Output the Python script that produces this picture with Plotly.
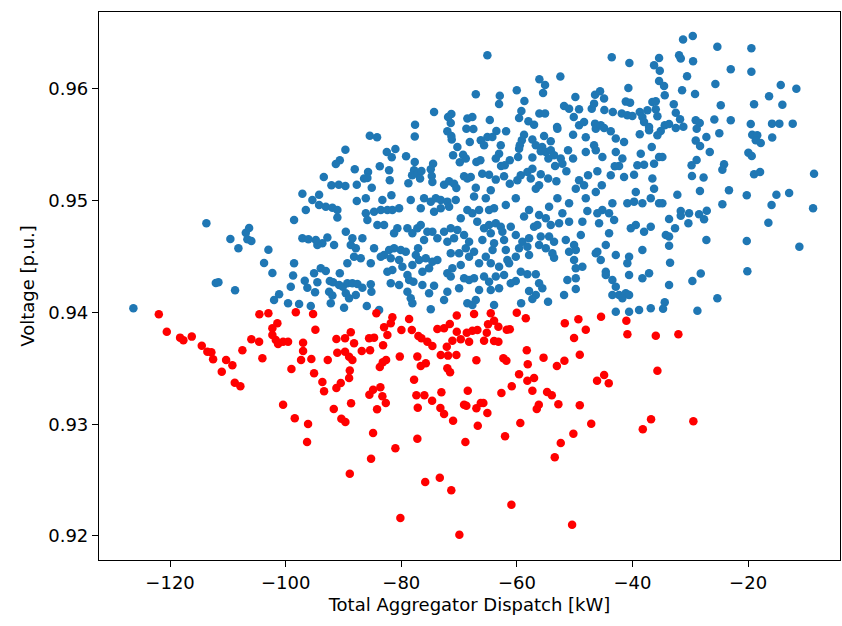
import plotly.graph_objects as go

# Aggregator dispatch (kW) and resulting bus voltage (p.u.) per scenario.
# Scenarios that stay at or above the voltage limit
ok_dispatch = [
    -74.33, -71.91, -71.34, -71.44, -72.03, -71.34, -71.27, -68.57, -68.74, -68.15, -77.62, -77.67,
    -85.45, -84.19, -89.67, -90.64, -91.33, -93.41, -92.09, -90.81, -89.67, -88.05, -87.70, -86.44,
    -85.75, -85.87, -85.11, -83.72, -82.51, -81.02, -81.65, -82.11, -81.99, -79.17, -77.67, -77.79,
    -78.13, -77.22, -76.52, -76.75, -78.77, -74.50, -74.90, -74.73, -74.62, -70.30, -71.04, -69.31,
    -69.88, -68.84, -69.14, -68.57, -72.60, -71.73, -70.87, -70.47, -97.11, -94.22, -81.71,
    -65.11, -43.59, -40.54, -36.27, -56.11, -55.13, -55.47, -52.48, -67.11, -62.96, -63.08, -60.02,
    -58.70, -59.22, -59.62, -58.01, -57.03, -56.11, -55.13, -53.05, -49.88, -51.84, -50.97, -49.24,
    -50.16, -49.24, -48.38, -47.05, -46.65, -46.48, -45.61, -44.92, -44.87, -43.41, -40.71, -41.16,
    -40.42, -41.86, -40.89, -40.02, -38.74, -38.29, -37.42, -36.56, -38.00, -37.13, -67.70, -64.69,
    -67.53, -63.55, -61.87, -66.25, -65.11, -64.24, -65.68, -62.79, -58.76, -59.15, -59.50, -59.62,
    -57.32, -56.73, -55.30, -54.14, -55.62, -55.87, -55.00, -54.14, -54.55, -53.57, -52.99, -50.28,
    -48.08, -46.48, -46.35, -45.49, -44.92, -43.76, -42.89, -41.46, -38.74, -37.13, -46.65, -46.35,
    -45.21, -48.08, -51.15, -52.41, -50.28, -42.89, -41.75, -42.32, -38.57, -38.00, -36.67, -39.16,
    -67.01, -66.32, -63.08, -63.65, -61.23, -59.79, -57.32, -62.74, -62.10, -66.00, -64.82, -63.65,
    -62.22, -67.98, -67.11, -64.52, -61.23, -59.92, -59.33, -58.19, -57.32, -57.60, -55.87, -56.16,
    -54.60, -53.17, -53.39, -52.13, -51.44, -49.24, -48.38, -47.69, -46.08, -45.31, -43.76, -43.07,
    -41.46, -39.73, -39.43, -36.56, -36.27, -56.73, -49.81, -46.35,
    -31.25, -29.57, -25.32, -19.43, -35.40, -31.94, -31.65, -29.52, -35.28, -23.00, -19.43, -30.56,
    -35.40, -34.54, -25.66, -14.35, -11.65, -31.42, -29.18, -34.42, -35.97, -32.86, -24.73, -18.97,
    -16.37, -14.07, -35.97, -32.51, -35.69, -31.77, -29.06, -28.37, -25.84, -23.00, -19.54, -15.86,
    -14.59, -12.28, -34.42, -33.67, -31.20, -32.51, -28.89, -35.11, -35.69, -24.98, -19.29, -18.42,
    -15.83, -27.22, -29.06, -28.31, -18.67, -17.81, -26.63, -19.95, -19.37, -35.40, -34.83, -28.91,
    -29.78, -24.16, -24.45, -18.97, -17.93, -8.59, -29.71, -27.70, -28.33, -23.31, -32.24, -36.27,
    -20.23, -15.10, -12.90,
    -113.72, -109.57, -108.18, -106.90, -106.33, -106.63, -105.94, -102.99, -103.74, -102.30,
    -112.09, -111.64, -108.76, -101.14, -102.01, -126.35,
    -99.59, -97.68, -95.66, -92.20, -89.90, -85.97, -83.84, -78.08, -74.90, -99.12, -96.70, -96.25,
    -94.92, -98.72, -98.55, -95.09, -94.52, -93.93, -93.06, -92.37, -91.80, -92.49, -91.92, -90.76,
    -90.64, -90.12, -89.33, -88.46, -87.60, -89.60, -89.03, -87.87, -86.73, -85.28, -85.17, -89.33,
    -88.17, -87.87, -88.74, -87.01, -86.73, -88.46, -89.60, -91.63, -93.65, -94.52, -94.79, -92.79,
    -97.11, -96.07, -98.55, -96.52, -95.38, -94.22, -93.06, -91.92, -91.06, -91.06, -87.70, -86.14,
    -86.14, -85.87, -84.71, -84.14, -82.98, -83.27, -83.55, -82.41, -81.54, -80.38, -80.68, -81.25,
    -78.94, -78.08, -77.22, -76.63, -78.36, -76.63, -76.06, -74.90, -74.03, -73.17, -72.03, -70.58,
    -74.33, -73.17, -71.73, -69.71, -68.57, -75.49, -73.76, -74.62, -72.60, -71.44, -70.30, -69.14,
    -70.87, -72.03, -71.44, -70.00, -68.84, -69.71, -71.16, -72.03, -71.44, -69.14, -68.27, -76.06,
    -77.10, -77.49, -76.92, -75.76, -74.62, -73.76, -75.19, -76.35, -78.08, -78.94, -77.90, -76.35,
    -74.33, -72.03, -70.00, -78.94, -75.19, -72.60, -68.57, -78.36, -82.11, -81.25, -80.09, -79.22,
    -82.98, -81.82, -80.38, -79.81, -81.54, -84.71, -83.55, -85.28, -81.82, -80.38, -82.41, -78.65,
    -67.41, -65.38, -63.95, -61.92, -60.19, -57.89, -58.76, -56.16, -55.00, -54.43, -52.99, -50.97,
    -48.08, -47.81, -45.21, -44.05, -43.48, -40.89, -39.73, -38.29, -36.84, -67.70, -66.54, -64.81,
    -66.86, -65.68, -64.81, -63.65, -62.79, -62.51, -61.06, -64.52, -68.27, -65.97, -63.95, -62.22,
    -60.19, -59.05, -57.89, -57.03, -56.46, -54.14, -52.70, -52.13, -50.97, -48.67, -48.94, -46.08,
    -45.78, -44.05, -43.18, -40.29, -39.43, -38.00, -36.84, -55.87, -54.43, -53.57, -51.54, -56.16,
    -55.00, -53.86, -53.57, -58.19, -59.62, -57.89, -60.19, -61.65, -61.92, -64.21, -65.38, -67.41,
    -68.27, -66.54, -64.52, -63.08, -61.35, -59.33, -58.19, -56.73, -60.19, -61.06, -62.22, -63.65,
    -64.81, -65.68, -67.41, -66.54, -64.52, -63.08, -57.89, -56.16, -55.60, -56.73, -57.32, -54.61,
    -59.27, -63.95, -67.11, -67.70, -51.84, -49.81, -51.27, -49.81, -48.67, -49.81, -50.11, -50.97,
    -50.11, -49.81, -46.08, -45.49, -44.62, -44.62, -43.48, -42.89, -42.32, -41.16, -40.59, -41.75,
    -43.48, -40.59, -38.29, -37.13, -40.89, -40.59, -42.89, -44.62, -46.35, -38.29, -42.89, -40.59,
    -38.86, -36.84,
    -35.40, -34.83, -31.65, -30.21, -31.65, -28.48, -27.15, -27.62, -33.67, -30.33, -32.64, -34.24,
    -33.67, -33.67, -27.22, -24.45, -15.94, -16.49, -8.76, -20.23, -11.13, -33.50, -28.19, -29.64,
    -33.67, -20.13, -25.32, -34.42, -34.71, -28.77,
]
ok_voltage = [
    0.95795, 0.95750, 0.95777, 0.95696, 0.95622, 0.95580, 0.95547, 0.95735, 0.95645, 0.95526, 0.95681, 0.95574,
    0.95582, 0.95568, 0.95457, 0.95362, 0.95329, 0.95213, 0.95139, 0.95144, 0.95132, 0.95282, 0.95144, 0.95198,
    0.95258, 0.95204, 0.95117, 0.95309, 0.95437, 0.95463, 0.95389, 0.95273, 0.95183, 0.95398, 0.95347, 0.95273,
    0.95228, 0.95242, 0.95267, 0.95198, 0.95156, 0.95332, 0.95282, 0.95222, 0.95168, 0.95481, 0.95407, 0.95412,
    0.95344, 0.95377, 0.95219, 0.95198, 0.95144, 0.95174, 0.95153, 0.95114, 0.95063, 0.95054, 0.95049,
    0.96302, 0.96284, 0.96233, 0.96213, 0.96087, 0.96036, 0.95965, 0.96111, 0.95953, 0.95940, 0.95866, 0.95989,
    0.95893, 0.95804, 0.95741, 0.95711, 0.95681, 0.95780, 0.95780, 0.95660, 0.95929, 0.95848, 0.95824, 0.95819,
    0.95750, 0.95676, 0.95705, 0.95824, 0.95869, 0.95949, 0.95980, 0.95914, 0.95812, 0.95795, 0.96009, 0.95887,
    0.95878, 0.95780, 0.95765, 0.95759, 0.95795, 0.95750, 0.95810, 0.95884, 0.95705, 0.95660, 0.95750, 0.95723,
    0.95642, 0.95625, 0.95622, 0.95541, 0.95571, 0.95571, 0.95497, 0.95497, 0.95591, 0.95541, 0.95497, 0.95466,
    0.95547, 0.95497, 0.95580, 0.95532, 0.95481, 0.95443, 0.95437, 0.95452, 0.95377, 0.95407, 0.95645, 0.95591,
    0.95568, 0.95690, 0.95645, 0.95676, 0.95651, 0.95622, 0.95556, 0.95526, 0.95595, 0.95630, 0.95497, 0.95452,
    0.95392, 0.95437, 0.95452, 0.95377, 0.95377, 0.95437, 0.95377, 0.95311, 0.95421, 0.95323, 0.95481, 0.95318,
    0.95347, 0.95362, 0.95421, 0.95377, 0.95362, 0.95392, 0.95386, 0.95311, 0.95318, 0.95242, 0.95233, 0.95189,
    0.95219, 0.95213, 0.95117, 0.95094, 0.95153, 0.95183, 0.95228, 0.95258, 0.95287, 0.95198, 0.95237, 0.95138,
    0.95198, 0.95174, 0.95311, 0.95332, 0.95264, 0.95183, 0.95138, 0.95228, 0.95264, 0.95138, 0.95228, 0.95308,
    0.95213, 0.95233, 0.95079, 0.95198, 0.95332, 0.95108, 0.95108, 0.95079,
    0.96442, 0.96475, 0.96379, 0.96365, 0.96278, 0.96302, 0.96272, 0.96248, 0.96164, 0.96177, 0.96155, 0.96114,
    0.96072, 0.96027, 0.96045, 0.96036, 0.96003, 0.95989, 0.95956, 0.95944, 0.95890, 0.95863, 0.95854, 0.95863,
    0.95935, 0.95860, 0.95819, 0.95788, 0.95756, 0.95729, 0.95720, 0.95696, 0.95726, 0.95720, 0.95687, 0.95690,
    0.95690, 0.95690, 0.95676, 0.95687, 0.95663, 0.95651, 0.95645, 0.95625, 0.95586, 0.95604, 0.95591, 0.95586,
    0.95565, 0.95571, 0.95538, 0.95490, 0.95541, 0.95517, 0.95437, 0.95430, 0.95401, 0.95392, 0.95392, 0.95365,
    0.95318, 0.95327, 0.95278, 0.95237, 0.95258, 0.95242, 0.95222, 0.95207, 0.95088, 0.95094, 0.95054, 0.95108,
    0.95049, 0.95054, 0.95070,
    0.94798, 0.94658, 0.94575, 0.94714, 0.94756, 0.94655, 0.94640, 0.94562, 0.94443, 0.94354,
    0.94264, 0.94270, 0.94199, 0.94163, 0.94112, 0.94038,
    0.94082, 0.94076, 0.94058, 0.94082, 0.94043, 0.94058, 0.94022, 0.94082, 0.94029, 0.94231, 0.94285, 0.94222,
    0.94181, 0.94330, 0.94440, 0.94351, 0.94270, 0.94396, 0.94371, 0.94282, 0.94270, 0.94186, 0.94151, 0.94246,
    0.94351, 0.94231, 0.94261, 0.94261, 0.94255, 0.94172, 0.94127, 0.94157, 0.94222, 0.94252, 0.94186, 0.94440,
    0.94499, 0.94575, 0.94604, 0.94485, 0.94664, 0.94664, 0.94723, 0.94604, 0.94619, 0.94604, 0.94649, 0.94670,
    0.94664, 0.94655, 0.94828, 0.94917, 0.95007, 0.94962, 0.94947, 0.94938, 0.94849, 0.94917, 0.94998, 0.95022,
    0.94888, 0.94828, 0.94902, 0.94783, 0.94783, 0.95007, 0.94917, 0.94917, 0.94917, 0.94933, 0.94754, 0.94710,
    0.94754, 0.94710, 0.94754, 0.94783, 0.95007, 0.94933, 0.95022, 0.94992, 0.95022, 0.95007, 0.94992, 0.95007,
    0.94902, 0.94933, 0.94947, 0.94843, 0.94917, 0.94723, 0.94664, 0.94723, 0.94723, 0.94754, 0.94739, 0.94694,
    0.94664, 0.94634, 0.94530, 0.94530, 0.94575, 0.94425, 0.94396, 0.94351, 0.94321, 0.94306, 0.94291, 0.94649,
    0.94575, 0.94515, 0.94470, 0.94485, 0.94455, 0.94470, 0.94396, 0.94365, 0.94425, 0.94336, 0.94276, 0.94246,
    0.94240, 0.94186, 0.94217, 0.94186, 0.94172, 0.94112, 0.94082, 0.94127, 0.94559, 0.94575, 0.94559, 0.94544,
    0.94515, 0.94485, 0.94470, 0.94410, 0.94380, 0.94575, 0.94499, 0.94440, 0.94261, 0.94246, 0.94365, 0.94291,
    0.95037, 0.95022, 0.94933, 0.94962, 0.95022, 0.94917, 0.94858, 0.94873, 0.94843, 0.94947, 0.95022, 0.94977,
    0.95022, 0.94909, 0.94917, 0.94888, 0.94977, 0.94977, 0.94992, 0.94977, 0.95022, 0.94888, 0.94917, 0.94917,
    0.94813, 0.94754, 0.94783, 0.94798, 0.94768, 0.94723, 0.94768, 0.94709, 0.94634, 0.94649, 0.94619, 0.94649,
    0.94694, 0.94634, 0.94664, 0.94768, 0.94783, 0.94783, 0.94798, 0.94888, 0.94813, 0.94813, 0.94694, 0.94888,
    0.94798, 0.94709, 0.94828, 0.94754, 0.94783, 0.94723, 0.94768, 0.94679, 0.94679, 0.94634, 0.94649, 0.94604,
    0.94575, 0.94530, 0.94490, 0.94589, 0.94575, 0.94515, 0.94499, 0.94470, 0.94560, 0.94560, 0.94499, 0.94544,
    0.94499, 0.94440, 0.94440, 0.94410, 0.94440, 0.94365, 0.94342, 0.94342, 0.94282, 0.94261, 0.94336, 0.94321,
    0.94276, 0.94321, 0.94306, 0.94201, 0.94201, 0.94217, 0.94193, 0.94261, 0.94217, 0.94157, 0.94121, 0.94097,
    0.94082, 0.94067, 0.94112, 0.94067, 0.94157, 0.94210, 0.94291, 0.94306, 0.94410, 0.94396, 0.94470, 0.94544,
    0.94604, 0.94560, 0.94544, 0.94470, 0.94365, 0.94336, 0.94291, 0.94231, 0.94157, 0.94172, 0.94157, 0.94127,
    0.94157, 0.94336, 0.94306, 0.94351, 0.94440, 0.94499, 0.94515, 0.94604, 0.94530, 0.94560, 0.94007, 0.94007,
    0.94022, 0.94037,
    0.94977, 0.94977, 0.94909, 0.94888, 0.94866, 0.94879, 0.94911, 0.94834, 0.94837, 0.94798, 0.94754, 0.94694,
    0.94679, 0.94598, 0.94649, 0.94968, 0.94962, 0.94804, 0.94933, 0.94640, 0.94589, 0.94446, 0.94348, 0.94282,
    0.94246, 0.94369, 0.94127, 0.94091, 0.94034, 0.94016,
]

# Scenarios that fall below the voltage limit
low_dispatch = [
    -121.95, -120.57, -118.27, -117.70, -116.25, -114.52, -113.55, -112.86, -112.56, -111.06, -110.31,
    -109.22, -107.49, -105.94, -104.60, -104.03, -104.55, -102.99, -102.30, -101.44, -102.30, -101.71,
    -101.32, -100.45, -108.81, -107.84, -100.45, -98.43, -96.13, -96.30, -93.65, -93.36, -91.23, -90.47,
    -89.03, -91.68, -90.37, -89.67, -88.69, -88.91, -85.52, -84.88, -83.62, -83.27, -82.68, -84.19,
    -84.88, -85.23, -81.02, -80.16, -77.79, -77.39, -76.01, -77.15, -77.22, -74.67, -73.06, -73.24,
    -72.60, -71.04, -68.50, -69.14, -68.74, -68.91, -75.86, -73.34, -71.35, -69.95, -67.01, -66.25,
    -65.80, -65.11, -66.77, -62.68, -60.89, -58.19, -57.03, -57.32, -54.78, -53.96, -56.21, -56.56,
    -52.82, -49.12, -59.41, -62.05, -47.14, -50.23, -52.41, -53.45, -60.95, -50.45, -46.13, -44.11,
    -38.22, -36.79, -29.47, -35.97, -32.06, -35.69,
    -67.41, -64.52, -60.02, -58.46, -63.95, -64.99, -63.20, -61.75, -61.23, -67.70, -66.84, -65.21,
    -65.68, -63.95, -63.20, -68.27, -67.01, -62.34, -61.82, -58.29, -58.12, -59.62, -55.39, -53.08,
    -51.78, -51.71, -49.36, -48.08, -50.11, -49.12, -45.44, -41.06, -40.88, -44.91,
    -98.25, -95.26, -99.59, -96.99, -96.99, -94.86, -97.34, -95.56, -99.01, -95.09, -92.72, -91.23,
    -89.73, -88.74, -88.17, -89.73, -91.07, -89.03, -88.46, -88.91, -86.84, -85.40, -85.57, -84.71,
    -84.31, -82.98, -81.82, -81.54, -82.41, -83.15, -83.20, -83.72, -82.63, -80.26, -79.98, -78.65,
    -78.18, -77.04, -76.52, -77.22, -75.76, -75.49, -74.62, -73.76, -72.60, -71.61, -70.40, -70.40,
    -71.16, -72.13, -71.91, -73.17, -70.47, -68.67, -69.71, -72.03, -71.56, -76.63,
]
low_voltage = [
    0.93984, 0.93828, 0.93775, 0.93751, 0.93784, 0.93703, 0.93649, 0.93644, 0.93581, 0.93470, 0.93575,
    0.93528, 0.93662, 0.93760, 0.93739, 0.93590, 0.93984, 0.93993, 0.93859, 0.93903, 0.93799, 0.93754,
    0.93718, 0.93739, 0.93372, 0.93340, 0.93175, 0.93053, 0.93002, 0.92841, 0.93378, 0.93295, 0.93324, 0.93369,
    0.93414, 0.93136, 0.93050, 0.93020, 0.93188, 0.92557, 0.93264, 0.93309, 0.93330, 0.93250, 0.93190, 0.93134,
    0.92922, 0.92692, 0.92785, 0.92161, 0.93399, 0.93260, 0.93260, 0.93148, 0.92870, 0.93211, 0.93286, 0.93145,
    0.93092, 0.93032, 0.93300, 0.93175, 0.93166, 0.92841, 0.92483, 0.92522, 0.92409, 0.92011, 0.93143, 0.93190,
    0.93190, 0.93100, 0.92987, 0.93280, 0.93340, 0.93390, 0.93414, 0.93300, 0.93289, 0.93259, 0.93175, 0.93136,
    0.93179, 0.93170, 0.93011, 0.92892, 0.93005, 0.92915, 0.92832, 0.92704, 0.92280, 0.92101, 0.93390, 0.93366,
    0.92955, 0.93044, 0.93026, 0.93792, 0.93805, 0.93479,
    0.93987, 0.93993, 0.93998, 0.93948, 0.93927, 0.93894, 0.93873, 0.93846, 0.93850, 0.93837, 0.93843, 0.93819,
    0.93748, 0.93745, 0.93739, 0.93739, 0.93572, 0.93590, 0.93569, 0.93662, 0.93536, 0.93447, 0.93596, 0.93521,
    0.93569, 0.93903, 0.93939, 0.93846, 0.93772, 0.93622, 0.93962, 0.93927, 0.93805, 0.93441,
    0.94002, 0.93987, 0.93739, 0.93730, 0.93656, 0.93846, 0.93575, 0.93584, 0.93494, 0.93456, 0.93575, 0.93763,
    0.93769, 0.93823, 0.93724, 0.93649, 0.93640, 0.93604, 0.93575, 0.93480, 0.93656, 0.93662, 0.93769, 0.93775,
    0.93993, 0.93868, 0.93903, 0.93957, 0.93799, 0.93707, 0.93554, 0.93512, 0.93575, 0.93605, 0.93844, 0.93942,
    0.93844, 0.93790, 0.93769, 0.93605, 0.93546, 0.93739, 0.93700, 0.93852, 0.93859, 0.93897, 0.93972, 0.93828,
    0.93748, 0.93694, 0.93614, 0.93620, 0.93620, 0.93819, 0.93760, 0.93501, 0.93465, 0.93521,
]

x_ticks = [-120, -100, -80, -60, -40, -20]
x_tick_labels = ["\u2212120", "\u2212100", "\u221280", "\u221260", "\u221240", "\u221220"]
y_ticks = [0.92, 0.93, 0.94, 0.95, 0.96]
y_tick_labels = ["0.92", "0.93", "0.94", "0.95", "0.96"]

fig = go.Figure()
fig.add_trace(go.Scatter(
    x=ok_dispatch, y=ok_voltage, mode="markers",
    marker=dict(color="#1f77b4", size=8.5, line=dict(width=0)),
    showlegend=False,
))
fig.add_trace(go.Scatter(
    x=low_dispatch, y=low_voltage, mode="markers",
    marker=dict(color="#ff0000", size=8.5, line=dict(width=0)),
    showlegend=False,
))

axis_common = dict(
    showline=True, linecolor="black", linewidth=1.2, mirror=True,
    showgrid=False, zeroline=False,
    ticks="outside", ticklen=6, tickwidth=1.2, tickcolor="black",
    tickfont=dict(family="DejaVu Sans", size=18, color="black"),
)

fig.update_layout(
    width=842, height=626,
    margin=dict(l=99, r=2, t=12, b=66),
    paper_bgcolor="white", plot_bgcolor="white",
    font=dict(family="DejaVu Sans", size=18, color="black"),
    xaxis=dict(
        range=[-132.3, -4.1], tickvals=x_ticks, ticktext=x_tick_labels,
        title=dict(text="Total Aggregator Dispatch [kW]", standoff=6,
                   font=dict(family="DejaVu Sans", size=18)),
        **axis_common,
    ),
    yaxis=dict(
        range=[0.91785, 0.96689], tickvals=y_ticks, ticktext=y_tick_labels,
        title=dict(text="Voltage [p.u.]", standoff=8,
                   font=dict(family="DejaVu Sans", size=18)),
        **axis_common,
    ),
)

fig.write_html("out.html")
